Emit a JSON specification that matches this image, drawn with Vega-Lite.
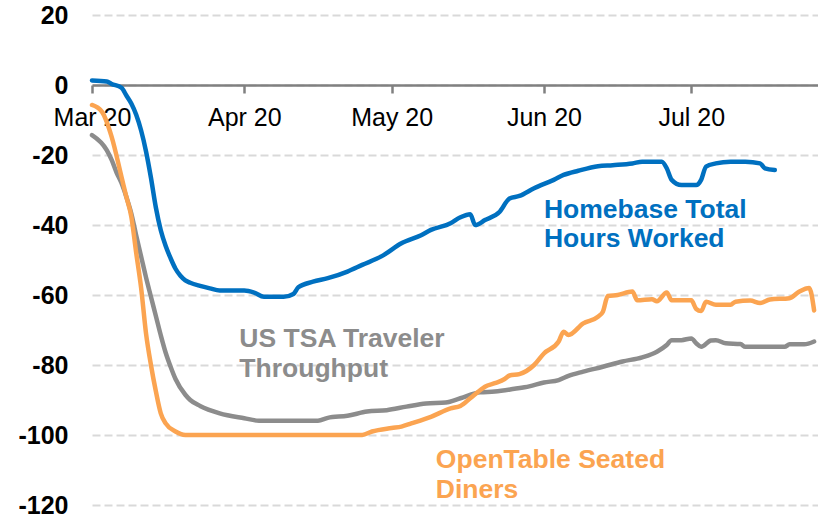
{
  "$schema": "https://vega.github.io/schema/vega-lite/v6.json",
  "width": 726,
  "height": 490,
  "autosize": "none",
  "padding": {"left": 92, "right": 0, "top": 15, "bottom": 17},
  "background": "white",
  "config": {"view": {"stroke": null}, "font": "Liberation Sans"},
  "datasets": {
    "series": [
      {"series": "US TSA Traveler Throughput", "date": "2020-03-01", "value": -14.3},
      {"series": "US TSA Traveler Throughput", "date": "2020-03-04", "value": -18.6},
      {"series": "US TSA Traveler Throughput", "date": "2020-03-05", "value": -21.4},
      {"series": "US TSA Traveler Throughput", "date": "2020-03-06", "value": -25},
      {"series": "US TSA Traveler Throughput", "date": "2020-03-07", "value": -28},
      {"series": "US TSA Traveler Throughput", "date": "2020-03-08", "value": -32},
      {"series": "US TSA Traveler Throughput", "date": "2020-03-09", "value": -36.7},
      {"series": "US TSA Traveler Throughput", "date": "2020-03-10", "value": -43},
      {"series": "US TSA Traveler Throughput", "date": "2020-03-11", "value": -49},
      {"series": "US TSA Traveler Throughput", "date": "2020-03-12", "value": -55},
      {"series": "US TSA Traveler Throughput", "date": "2020-03-13", "value": -60.5},
      {"series": "US TSA Traveler Throughput", "date": "2020-03-14", "value": -66},
      {"series": "US TSA Traveler Throughput", "date": "2020-03-15", "value": -71.5},
      {"series": "US TSA Traveler Throughput", "date": "2020-03-16", "value": -76.5},
      {"series": "US TSA Traveler Throughput", "date": "2020-03-17", "value": -80.5},
      {"series": "US TSA Traveler Throughput", "date": "2020-03-18", "value": -84},
      {"series": "US TSA Traveler Throughput", "date": "2020-03-20", "value": -88.5},
      {"series": "US TSA Traveler Throughput", "date": "2020-03-21", "value": -90},
      {"series": "US TSA Traveler Throughput", "date": "2020-03-23", "value": -91.7},
      {"series": "US TSA Traveler Throughput", "date": "2020-03-27", "value": -93.8},
      {"series": "US TSA Traveler Throughput", "date": "2020-04-01", "value": -95.2},
      {"series": "US TSA Traveler Throughput", "date": "2020-04-04", "value": -95.9},
      {"series": "US TSA Traveler Throughput", "date": "2020-04-16", "value": -95.9},
      {"series": "US TSA Traveler Throughput", "date": "2020-04-18", "value": -95.1},
      {"series": "US TSA Traveler Throughput", "date": "2020-04-22", "value": -94.5},
      {"series": "US TSA Traveler Throughput", "date": "2020-04-26", "value": -93.3},
      {"series": "US TSA Traveler Throughput", "date": "2020-04-30", "value": -92.9},
      {"series": "US TSA Traveler Throughput", "date": "2020-05-04", "value": -91.9},
      {"series": "US TSA Traveler Throughput", "date": "2020-05-08", "value": -91},
      {"series": "US TSA Traveler Throughput", "date": "2020-05-12", "value": -90.7},
      {"series": "US TSA Traveler Throughput", "date": "2020-05-15", "value": -89.5},
      {"series": "US TSA Traveler Throughput", "date": "2020-05-19", "value": -87.8},
      {"series": "US TSA Traveler Throughput", "date": "2020-05-22", "value": -87.6},
      {"series": "US TSA Traveler Throughput", "date": "2020-05-26", "value": -86.8},
      {"series": "US TSA Traveler Throughput", "date": "2020-05-29", "value": -86.1},
      {"series": "US TSA Traveler Throughput", "date": "2020-06-01", "value": -85},
      {"series": "US TSA Traveler Throughput", "date": "2020-06-04", "value": -84.3},
      {"series": "US TSA Traveler Throughput", "date": "2020-06-06", "value": -83.1},
      {"series": "US TSA Traveler Throughput", "date": "2020-06-09", "value": -81.9},
      {"series": "US TSA Traveler Throughput", "date": "2020-06-13", "value": -80.5},
      {"series": "US TSA Traveler Throughput", "date": "2020-06-17", "value": -79},
      {"series": "US TSA Traveler Throughput", "date": "2020-06-21", "value": -77.8},
      {"series": "US TSA Traveler Throughput", "date": "2020-06-24", "value": -76.2},
      {"series": "US TSA Traveler Throughput", "date": "2020-06-26", "value": -74.3},
      {"series": "US TSA Traveler Throughput", "date": "2020-06-27", "value": -72.9},
      {"series": "US TSA Traveler Throughput", "date": "2020-06-29", "value": -72.9},
      {"series": "US TSA Traveler Throughput", "date": "2020-07-01", "value": -72.4},
      {"series": "US TSA Traveler Throughput", "date": "2020-07-02", "value": -73.8},
      {"series": "US TSA Traveler Throughput", "date": "2020-07-03", "value": -74.8},
      {"series": "US TSA Traveler Throughput", "date": "2020-07-05", "value": -73},
      {"series": "US TSA Traveler Throughput", "date": "2020-07-06", "value": -72.9},
      {"series": "US TSA Traveler Throughput", "date": "2020-07-08", "value": -73.8},
      {"series": "US TSA Traveler Throughput", "date": "2020-07-11", "value": -74},
      {"series": "US TSA Traveler Throughput", "date": "2020-07-12", "value": -74.8},
      {"series": "US TSA Traveler Throughput", "date": "2020-07-20", "value": -74.8},
      {"series": "US TSA Traveler Throughput", "date": "2020-07-21", "value": -74.1},
      {"series": "US TSA Traveler Throughput", "date": "2020-07-24", "value": -74.1},
      {"series": "US TSA Traveler Throughput", "date": "2020-07-26", "value": -73.3},

      {"series": "OpenTable Seated Diners", "date": "2020-03-01", "value": -5.7},
      {"series": "OpenTable Seated Diners", "date": "2020-03-03", "value": -7.6},
      {"series": "OpenTable Seated Diners", "date": "2020-03-05", "value": -14.8},
      {"series": "OpenTable Seated Diners", "date": "2020-03-07", "value": -26.2},
      {"series": "OpenTable Seated Diners", "date": "2020-03-08", "value": -32},
      {"series": "OpenTable Seated Diners", "date": "2020-03-09", "value": -37.6},
      {"series": "OpenTable Seated Diners", "date": "2020-03-10", "value": -48},
      {"series": "OpenTable Seated Diners", "date": "2020-03-11", "value": -58},
      {"series": "OpenTable Seated Diners", "date": "2020-03-12", "value": -71},
      {"series": "OpenTable Seated Diners", "date": "2020-03-13", "value": -80},
      {"series": "OpenTable Seated Diners", "date": "2020-03-14", "value": -87.5},
      {"series": "OpenTable Seated Diners", "date": "2020-03-15", "value": -93.8},
      {"series": "OpenTable Seated Diners", "date": "2020-03-16", "value": -96.7},
      {"series": "OpenTable Seated Diners", "date": "2020-03-18", "value": -99},
      {"series": "OpenTable Seated Diners", "date": "2020-03-19", "value": -99.7},
      {"series": "OpenTable Seated Diners", "date": "2020-03-20", "value": -100},
      {"series": "OpenTable Seated Diners", "date": "2020-04-25", "value": -100},
      {"series": "OpenTable Seated Diners", "date": "2020-04-27", "value": -99},
      {"series": "OpenTable Seated Diners", "date": "2020-05-01", "value": -98},
      {"series": "OpenTable Seated Diners", "date": "2020-05-03", "value": -97.6},
      {"series": "OpenTable Seated Diners", "date": "2020-05-05", "value": -96.7},
      {"series": "OpenTable Seated Diners", "date": "2020-05-09", "value": -94.8},
      {"series": "OpenTable Seated Diners", "date": "2020-05-13", "value": -92.4},
      {"series": "OpenTable Seated Diners", "date": "2020-05-15", "value": -91.7},
      {"series": "OpenTable Seated Diners", "date": "2020-05-17", "value": -89.5},
      {"series": "OpenTable Seated Diners", "date": "2020-05-19", "value": -87.2},
      {"series": "OpenTable Seated Diners", "date": "2020-05-20", "value": -86.2},
      {"series": "OpenTable Seated Diners", "date": "2020-05-22", "value": -85.2},
      {"series": "OpenTable Seated Diners", "date": "2020-05-24", "value": -84},
      {"series": "OpenTable Seated Diners", "date": "2020-05-25", "value": -83},
      {"series": "OpenTable Seated Diners", "date": "2020-05-27", "value": -82.6},
      {"series": "OpenTable Seated Diners", "date": "2020-05-30", "value": -80},
      {"series": "OpenTable Seated Diners", "date": "2020-06-01", "value": -76.7},
      {"series": "OpenTable Seated Diners", "date": "2020-06-04", "value": -73.3},
      {"series": "OpenTable Seated Diners", "date": "2020-06-05", "value": -70.5},
      {"series": "OpenTable Seated Diners", "date": "2020-06-06", "value": -71.4},
      {"series": "OpenTable Seated Diners", "date": "2020-06-09", "value": -68.1},
      {"series": "OpenTable Seated Diners", "date": "2020-06-12", "value": -66.2},
      {"series": "OpenTable Seated Diners", "date": "2020-06-13", "value": -64.8},
      {"series": "OpenTable Seated Diners", "date": "2020-06-14", "value": -60.3},
      {"series": "OpenTable Seated Diners", "date": "2020-06-16", "value": -60},
      {"series": "OpenTable Seated Diners", "date": "2020-06-19", "value": -59},
      {"series": "OpenTable Seated Diners", "date": "2020-06-20", "value": -61.5},
      {"series": "OpenTable Seated Diners", "date": "2020-06-23", "value": -61.2},
      {"series": "OpenTable Seated Diners", "date": "2020-06-24", "value": -61.8},
      {"series": "OpenTable Seated Diners", "date": "2020-06-26", "value": -59.3},
      {"series": "OpenTable Seated Diners", "date": "2020-06-27", "value": -61.5},
      {"series": "OpenTable Seated Diners", "date": "2020-07-01", "value": -61.5},
      {"series": "OpenTable Seated Diners", "date": "2020-07-02", "value": -64},
      {"series": "OpenTable Seated Diners", "date": "2020-07-03", "value": -64.6},
      {"series": "OpenTable Seated Diners", "date": "2020-07-04", "value": -61.9},
      {"series": "OpenTable Seated Diners", "date": "2020-07-06", "value": -62.8},
      {"series": "OpenTable Seated Diners", "date": "2020-07-09", "value": -62.8},
      {"series": "OpenTable Seated Diners", "date": "2020-07-10", "value": -61.9},
      {"series": "OpenTable Seated Diners", "date": "2020-07-13", "value": -61.6},
      {"series": "OpenTable Seated Diners", "date": "2020-07-15", "value": -62.3},
      {"series": "OpenTable Seated Diners", "date": "2020-07-17", "value": -61.3},
      {"series": "OpenTable Seated Diners", "date": "2020-07-21", "value": -60.9},
      {"series": "OpenTable Seated Diners", "date": "2020-07-23", "value": -59},
      {"series": "OpenTable Seated Diners", "date": "2020-07-25", "value": -58},
      {"series": "OpenTable Seated Diners", "date": "2020-07-26", "value": -64.4},

      {"series": "Homebase Total Hours Worked", "date": "2020-03-01", "value": 1.3},
      {"series": "Homebase Total Hours Worked", "date": "2020-03-04", "value": 1.0},
      {"series": "Homebase Total Hours Worked", "date": "2020-03-05", "value": 0.3},
      {"series": "Homebase Total Hours Worked", "date": "2020-03-07", "value": -0.8},
      {"series": "Homebase Total Hours Worked", "date": "2020-03-08", "value": -3},
      {"series": "Homebase Total Hours Worked", "date": "2020-03-09", "value": -5.3},
      {"series": "Homebase Total Hours Worked", "date": "2020-03-10", "value": -8.5},
      {"series": "Homebase Total Hours Worked", "date": "2020-03-11", "value": -13},
      {"series": "Homebase Total Hours Worked", "date": "2020-03-12", "value": -19},
      {"series": "Homebase Total Hours Worked", "date": "2020-03-13", "value": -26.5},
      {"series": "Homebase Total Hours Worked", "date": "2020-03-14", "value": -35},
      {"series": "Homebase Total Hours Worked", "date": "2020-03-15", "value": -41.5},
      {"series": "Homebase Total Hours Worked", "date": "2020-03-16", "value": -46},
      {"series": "Homebase Total Hours Worked", "date": "2020-03-17", "value": -49.5},
      {"series": "Homebase Total Hours Worked", "date": "2020-03-18", "value": -52.5},
      {"series": "Homebase Total Hours Worked", "date": "2020-03-19", "value": -54.5},
      {"series": "Homebase Total Hours Worked", "date": "2020-03-20", "value": -55.8},
      {"series": "Homebase Total Hours Worked", "date": "2020-03-21", "value": -56.5},
      {"series": "Homebase Total Hours Worked", "date": "2020-03-23", "value": -57.4},
      {"series": "Homebase Total Hours Worked", "date": "2020-03-25", "value": -58.1},
      {"series": "Homebase Total Hours Worked", "date": "2020-03-27", "value": -58.7},
      {"series": "Homebase Total Hours Worked", "date": "2020-04-01", "value": -58.7},
      {"series": "Homebase Total Hours Worked", "date": "2020-04-03", "value": -59.3},
      {"series": "Homebase Total Hours Worked", "date": "2020-04-05", "value": -60.5},
      {"series": "Homebase Total Hours Worked", "date": "2020-04-09", "value": -60.5},
      {"series": "Homebase Total Hours Worked", "date": "2020-04-11", "value": -59.7},
      {"series": "Homebase Total Hours Worked", "date": "2020-04-12", "value": -57.8},
      {"series": "Homebase Total Hours Worked", "date": "2020-04-15", "value": -56.2},
      {"series": "Homebase Total Hours Worked", "date": "2020-04-18", "value": -55.2},
      {"series": "Homebase Total Hours Worked", "date": "2020-04-22", "value": -53.3},
      {"series": "Homebase Total Hours Worked", "date": "2020-04-25", "value": -51.4},
      {"series": "Homebase Total Hours Worked", "date": "2020-04-29", "value": -48.9},
      {"series": "Homebase Total Hours Worked", "date": "2020-05-03", "value": -45.2},
      {"series": "Homebase Total Hours Worked", "date": "2020-05-07", "value": -42.9},
      {"series": "Homebase Total Hours Worked", "date": "2020-05-09", "value": -41.4},
      {"series": "Homebase Total Hours Worked", "date": "2020-05-13", "value": -39.5},
      {"series": "Homebase Total Hours Worked", "date": "2020-05-15", "value": -37.8},
      {"series": "Homebase Total Hours Worked", "date": "2020-05-17", "value": -36.9},
      {"series": "Homebase Total Hours Worked", "date": "2020-05-18", "value": -40},
      {"series": "Homebase Total Hours Worked", "date": "2020-05-20", "value": -38.6},
      {"series": "Homebase Total Hours Worked", "date": "2020-05-23", "value": -36.2},
      {"series": "Homebase Total Hours Worked", "date": "2020-05-25", "value": -32.4},
      {"series": "Homebase Total Hours Worked", "date": "2020-05-27", "value": -31.7},
      {"series": "Homebase Total Hours Worked", "date": "2020-05-30", "value": -29.5},
      {"series": "Homebase Total Hours Worked", "date": "2020-06-03", "value": -27.1},
      {"series": "Homebase Total Hours Worked", "date": "2020-06-05", "value": -25.7},
      {"series": "Homebase Total Hours Worked", "date": "2020-06-08", "value": -24.5},
      {"series": "Homebase Total Hours Worked", "date": "2020-06-12", "value": -23.2},
      {"series": "Homebase Total Hours Worked", "date": "2020-06-15", "value": -22.9},
      {"series": "Homebase Total Hours Worked", "date": "2020-06-19", "value": -22.4},
      {"series": "Homebase Total Hours Worked", "date": "2020-06-21", "value": -21.9},
      {"series": "Homebase Total Hours Worked", "date": "2020-06-25", "value": -21.9},
      {"series": "Homebase Total Hours Worked", "date": "2020-06-26", "value": -23.8},
      {"series": "Homebase Total Hours Worked", "date": "2020-06-27", "value": -27.1},
      {"series": "Homebase Total Hours Worked", "date": "2020-06-29", "value": -28.6},
      {"series": "Homebase Total Hours Worked", "date": "2020-07-02", "value": -28.6},
      {"series": "Homebase Total Hours Worked", "date": "2020-07-03", "value": -27.1},
      {"series": "Homebase Total Hours Worked", "date": "2020-07-04", "value": -23.3},
      {"series": "Homebase Total Hours Worked", "date": "2020-07-06", "value": -22.4},
      {"series": "Homebase Total Hours Worked", "date": "2020-07-09", "value": -21.9},
      {"series": "Homebase Total Hours Worked", "date": "2020-07-12", "value": -21.9},
      {"series": "Homebase Total Hours Worked", "date": "2020-07-15", "value": -22.4},
      {"series": "Homebase Total Hours Worked", "date": "2020-07-16", "value": -23.8},
      {"series": "Homebase Total Hours Worked", "date": "2020-07-18", "value": -24.3}
    ],
    "labels": [
      {"series": "Homebase Total Hours Worked", "text": "Homebase Total", "date": "2020-06-01", "value": -37.9},
      {"series": "Homebase Total Hours Worked", "text": "Hours Worked", "date": "2020-06-01", "value": -46.2},
      {"series": "US TSA Traveler Throughput", "text": "US TSA Traveler", "date": "2020-03-31", "value": -74.8},
      {"series": "US TSA Traveler Throughput", "text": "Throughput", "date": "2020-03-31", "value": -83.3},
      {"series": "OpenTable Seated Diners", "text": "OpenTable Seated", "date": "2020-05-10", "value": -109.4},
      {"series": "OpenTable Seated Diners", "text": "Diners", "date": "2020-05-10", "value": -118}
    ]
  },
  "encoding": {
    "x": {
      "field": "date",
      "type": "temporal",
      "title": null,
      "scale": {
        "type": "utc",
        "domain": [
          {"year": 2020, "month": 3, "date": 1, "utc": true},
          {"year": 2020, "month": 7, "date": 26, "hours": 19, "utc": true}
        ]
      },
      "axis": {
        "orient": "bottom",
        "offset": -420,
        "format": "%b %y",
        "values": [
          {"year": 2020, "month": 3, "date": 1, "utc": true},
          {"year": 2020, "month": 4, "date": 1, "utc": true},
          {"year": 2020, "month": 5, "date": 1, "utc": true},
          {"year": 2020, "month": 6, "date": 1, "utc": true},
          {"year": 2020, "month": 7, "date": 1, "utc": true}
        ],
        "grid": false,
        "domainColor": "#808080",
        "domainWidth": 2.5,
        "tickColor": "#808080",
        "tickWidth": 2.5,
        "tickSize": 8,
        "labelFont": "Liberation Sans",
        "labelFontSize": 25,
        "labelColor": "#000000",
        "labelPadding": 12,
        "labelOverlap": false,
        "labelFlush": false,
        "labelBound": false
      }
    },
    "y": {
      "field": "value",
      "type": "quantitative",
      "title": null,
      "scale": {"domain": [-120, 20], "nice": false, "zero": false},
      "axis": {
        "values": [-120, -100, -80, -60, -40, -20, 0, 20],
        "labelExpr": "toString(datum.value)",
        "domain": false,
        "ticks": false,
        "tickSize": 0,
        "grid": true,
        "gridColor": "#d9d9d9",
        "gridDash": [8, 4],
        "gridWidth": 2,
        "labelFont": "Liberation Sans",
        "labelFontSize": 25,
        "labelFontWeight": "bold",
        "labelColor": "#000000",
        "labelPadding": 24
      }
    },
    "color": {
      "field": "series",
      "type": "nominal",
      "legend": null,
      "scale": {
        "domain": ["Homebase Total Hours Worked", "US TSA Traveler Throughput", "OpenTable Seated Diners"],
        "range": ["#0070C0", "#8C8C8C", "#FBA451"]
      }
    }
  },
  "layer": [
    {
      "data": {"name": "series"},
      "transform": [{"filter": "datum.series === 'US TSA Traveler Throughput'"}],
      "mark": {"type": "line", "strokeWidth": 4.5, "interpolate": "monotone", "strokeJoin": "round", "strokeCap": "round"}
    },
    {
      "data": {"name": "series"},
      "transform": [{"filter": "datum.series === 'OpenTable Seated Diners'"}],
      "mark": {"type": "line", "strokeWidth": 4.5, "interpolate": "monotone", "strokeJoin": "round", "strokeCap": "round"}
    },
    {
      "data": {"name": "series"},
      "transform": [{"filter": "datum.series === 'Homebase Total Hours Worked'"}],
      "mark": {"type": "line", "strokeWidth": 4.5, "interpolate": "monotone", "strokeJoin": "round", "strokeCap": "round"}
    },
    {
      "data": {"name": "labels"},
      "mark": {"type": "text", "align": "left", "baseline": "alphabetic", "font": "Liberation Sans", "fontSize": 26.5, "fontWeight": "bold"},
      "encoding": {"text": {"field": "text", "type": "nominal"}}
    }
  ]
}
